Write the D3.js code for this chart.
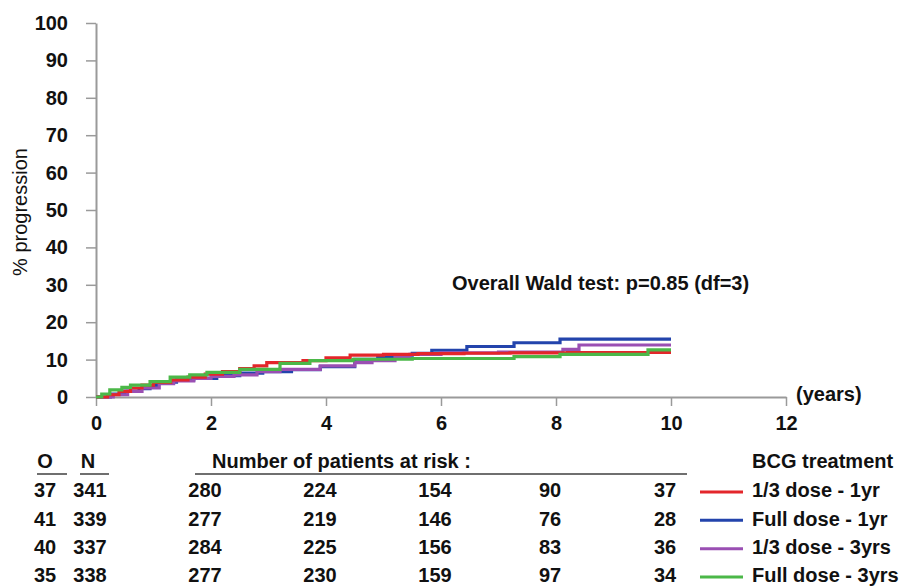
<!DOCTYPE html>
<html>
<head>
<meta charset="utf-8">
<script src="https://cdn.jsdelivr.net/npm/d3@7"></script>
<style>
  html, body { margin: 0; padding: 0; background: #fff; }
  svg { display: block; }
  text { font-family: "Liberation Sans", Arial, sans-serif; fill: #111; }
</style>
</head>
<body>
<svg id="chart" width="901" height="588"></svg>
<script>
// ---------- data ----------
const seriesNames = ["1/3 dose - 1yr", "Full dose - 1yr", "1/3 dose - 3yrs", "Full dose - 3yrs"];
const seriesColors = ["#e3262b", "#2344ac", "#9a4fb3", "#4bb848"];

const red13dose1yr = [[0,0],[0.2,0.6],[0.4,1.5],[0.6,2.4],[0.8,3.2],[1.0,3.9],[1.3,4.6],[1.6,5.3],[1.9,6.1],[2.2,6.8],[2.5,7.6],[2.75,8.3],[2.97,9.2],[3.6,9.7],[4.0,10.5],[4.42,11.2],[5.0,11.4],[5.6,11.6],[6.4,11.7],[7.2,11.8],[8.2,11.9],[10,11.9]];
const blueFull1yr = [[0,0],[0.25,0.8],[0.5,1.6],[0.75,2.2],[0.94,2.8],[1.05,4.0],[1.4,4.6],[1.7,5.0],[2.1,5.7],[2.5,6.4],[2.9,6.8],[3.4,7.3],[3.9,8.1],[4.5,10.1],[4.9,10.8],[5.2,11.2],[5.5,11.7],[5.84,12.5],[6.45,13.5],[7.27,14.5],[8.07,15.5],[10,15.5]];
const purple13dose3yrs = [[0,0],[0.3,0.6],[0.55,1.5],[0.8,2.4],[1.1,3.6],[1.35,4.3],[1.7,5.0],[2.0,5.5],[2.4,5.9],[2.8,6.8],[3.2,7.4],[3.9,8.3],[4.5,9.2],[4.8,9.7],[5.2,10.6],[5.46,11.4],[6.0,11.8],[7.0,12.0],[8.12,12.75],[8.4,13.9],[10,13.9]];
const greenFull3yrs = [[0,0],[0.1,0.8],[0.24,1.9],[0.45,2.6],[0.6,3.2],[0.94,4.1],[1.29,5.3],[1.63,5.9],[1.93,6.6],[2.5,7.4],[3.2,9.0],[3.72,9.7],[4.47,10.1],[5.5,10.3],[7.27,10.8],[8.07,11.4],[9.6,12.6],[10,12.6]];
const seriesData = [red13dose1yr, blueFull1yr, purple13dose3yrs, greenFull3yrs];
const drawOrder = [1, 2, 0, 3];

const xTicks = [0, 2, 4, 6, 8, 10, 12];
const yTicks = [0, 10, 20, 30, 40, 50, 60, 70, 80, 90, 100];

const observedO = [37, 41, 40, 35];
const totalN = [341, 339, 337, 338];
const atRiskTimes = [2, 4, 6, 8, 10];
const atRiskRed = [280, 224, 154, 90, 37];
const atRiskBlue = [277, 219, 146, 76, 28];
const atRiskPurple = [284, 225, 156, 83, 36];
const atRiskGreen = [277, 230, 159, 97, 34];
const atRiskRows = [atRiskRed, atRiskBlue, atRiskPurple, atRiskGreen];

// ---------- layout ----------
const svg = d3.select("#chart");
const x = d3.scaleLinear().domain([0, 12]).range([96, 786]);
const y = d3.scaleLinear().domain([0, 100]).range([397, 23]);
const axisColor = "#9a9a9a";
const fs = 20;

// y axis
const gy = svg.append("g").attr("transform", `translate(${x(0)},0)`)
  .call(d3.axisLeft(y).tickValues(yTicks).tickSize(10).tickSizeOuter(0).tickPadding(18));
gy.select(".domain").attr("stroke", axisColor).attr("stroke-width", 2);
gy.selectAll(".tick line").attr("stroke", axisColor).attr("stroke-width", 1.5);
gy.selectAll(".tick text").attr("font-size", fs).attr("font-weight", "bold")
  .attr("font-family", "Liberation Sans, Arial, sans-serif").attr("fill", "#111");

// x axis
const gx = svg.append("g").attr("transform", `translate(0,${y(0)})`)
  .call(d3.axisBottom(x).tickValues(xTicks).tickSize(9).tickSizeOuter(0).tickPadding(10));
gx.select(".domain").attr("stroke", axisColor).attr("stroke-width", 2);
gx.selectAll(".tick line").attr("stroke", axisColor).attr("stroke-width", 1.5);
gx.selectAll(".tick text").attr("font-size", fs).attr("font-weight", "bold")
  .attr("font-family", "Liberation Sans, Arial, sans-serif").attr("fill", "#111");

// axis titles
svg.append("text").attr("transform", "translate(22,212) rotate(-90)")
  .attr("text-anchor", "middle").attr("dominant-baseline", "middle")
  .attr("font-size", 20).text("% progression");
svg.append("text").attr("x", 796).attr("y", 396)
  .attr("dominant-baseline", "middle").attr("font-size", fs).attr("font-weight", "bold")
  .text("(years)");
svg.append("text").attr("x", 452).attr("y", 285)
  .attr("dominant-baseline", "middle").attr("font-size", fs).attr("font-weight", "bold")
  .text("Overall Wald test: p=0.85 (df=3)");

// curves
const line = d3.line().x(d => x(d[0])).y(d => y(d[1])).curve(d3.curveStepAfter);
drawOrder.forEach(i => {
  svg.append("path").datum(seriesData[i])
    .attr("fill", "none").attr("stroke", seriesColors[i])
    .attr("stroke-width", 3.2).attr("stroke-linejoin", "miter")
    .attr("d", line);
});

// ---------- risk table ----------
const headY = 463;
const rowY = d3.scaleLinear().domain([0, 3]).range([492, 577]);
const oX = 45, nX = 90;
const bold = sel => sel.attr("font-size", fs).attr("font-weight", "bold").attr("dominant-baseline", "middle");

bold(svg.append("text").attr("x", oX).attr("y", headY).attr("text-anchor", "middle").text("O"));
bold(svg.append("text").attr("x", nX - 2).attr("y", headY).attr("text-anchor", "middle").text("N"));
bold(svg.append("text").attr("x", 212).attr("y", headY).text("Number of patients at risk :"));
bold(svg.append("text").attr("x", 752).attr("y", headY).text("BCG treatment"));

const ulColor = "#6f6f6f";
[[37, 67], [80, 109], [195, 687]].forEach(([a, b]) => {
  svg.append("line").attr("x1", a).attr("x2", b).attr("y1", 474).attr("y2", 474)
    .attr("stroke", ulColor).attr("stroke-width", 2);
});

seriesNames.forEach((name, i) => {
  const yy = rowY(i);
  bold(svg.append("text").attr("x", oX).attr("y", yy).attr("text-anchor", "middle").text(observedO[i]));
  bold(svg.append("text").attr("x", nX).attr("y", yy).attr("text-anchor", "middle").text(totalN[i]));
  atRiskRows[i].forEach((v, j) => {
    bold(svg.append("text").attr("x", x(atRiskTimes[j]) - 6).attr("y", yy)
      .attr("text-anchor", "middle").text(v));
  });
  svg.append("line").attr("x1", 700).attr("x2", 743).attr("y1", yy).attr("y2", yy)
    .attr("stroke", seriesColors[i]).attr("stroke-width", 3);
  bold(svg.append("text").attr("x", 752).attr("y", yy).text(name));
});
</script>
</body>
</html>
